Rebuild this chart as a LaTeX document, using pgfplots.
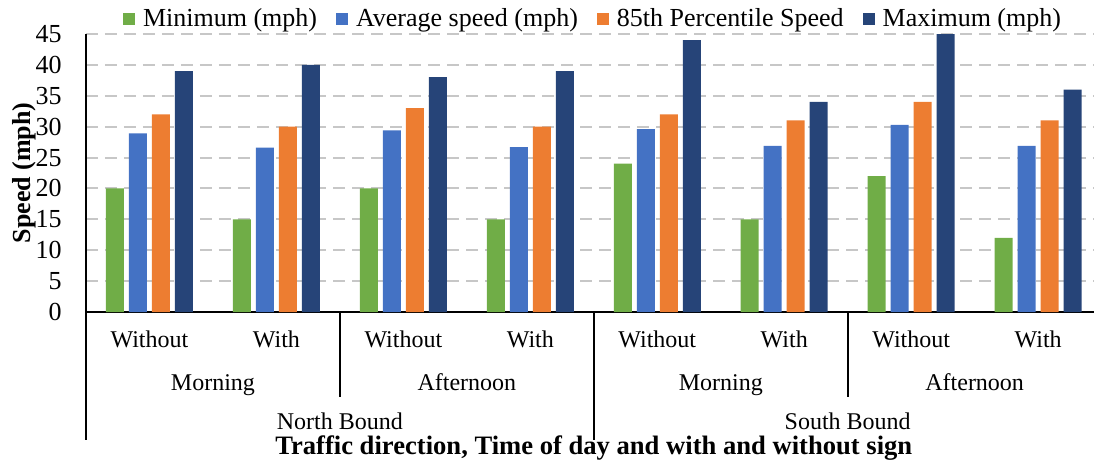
\documentclass[border=0pt]{standalone}
\usepackage{pgfplots}
\pgfplotsset{compat=1.18}
\usepackage{fontspec}
\setmainfont{Liberation Serif}
\definecolor{cgreen}{HTML}{70AD47}
\definecolor{cblue}{HTML}{4472C4}
\definecolor{corange}{HTML}{ED7D31}
\definecolor{cnavy}{HTML}{264478}
\begin{document}
\begin{tikzpicture}
\begin{axis}[
  scale only axis,
  width=504pt, height=139pt,
  xmin=-0.5, xmax=7.44, ymin=0, ymax=45,
  clip=false,
  ybar=2.5pt, bar width=9pt,
  axis x line*=bottom, axis y line*=left,
  axis line style={line width=1pt, black, -},
  xtick={0,...,7},
  xticklabels={Without,With,Without,With,Without,With,Without,With},
  ytick={0,5,...,45},
  major tick length=0pt,
  tick style={draw=none},
  ymajorgrids,
  grid style={line width=1pt, color=black!22, dash pattern=on 6pt off 3.5pt},
  /pgf/number format/assume math mode=true,
  yticklabel style={font=\fontsize{13}{15}\selectfont, inner sep=0pt, xshift=-12pt},
  xticklabel style={font=\fontsize{12}{14}\selectfont, anchor=base, inner sep=0pt, yshift=-17.5pt},
  ylabel={\bfseries Speed (mph)},
  ylabel style={at={([xshift=-31pt]axis description cs:0,0.5)}, anchor=center, inner sep=0pt, font=\fontsize{13}{15}\selectfont},
  legend columns=4,
  legend image code/.code={\fill[#1] (0pt,-3pt) rectangle (6pt,3pt);},
  legend style={draw=none, fill=none, at={(axis description cs:0.504,1)}, anchor=center, yshift=7.5pt,
    font=\fontsize{13}{15}\selectfont,
    /tikz/every odd column/.append style={column sep=2pt},
    /tikz/every even column/.append style={column sep=7.5pt}},
]
\addplot[fill=cgreen, draw=none] coordinates {(0,20) (1,15) (2,20) (3,15) (4,24) (5,15) (6,22) (7,12)};
\addplot[fill=cblue, draw=none] coordinates {(0,28.9) (1,26.6) (2,29.4) (3,26.7) (4,29.6) (5,26.9) (6,30.3) (7,26.9)};
\addplot[fill=corange, draw=none] coordinates {(0,32) (1,30) (2,33) (3,30) (4,32) (5,31) (6,34) (7,31)};
\addplot[fill=cnavy, draw=none] coordinates {(0,39) (1,40) (2,38) (3,39) (4,44) (5,34) (6,45) (7,36)};
\legend{Minimum (mph), Average speed (mph), 85th Percentile Speed, Maximum (mph)}
% separators
\draw[line width=1pt] (axis cs:-0.5,0) -- ++(0pt,-64pt);
\draw[line width=1pt] (axis cs:3.5,0) -- ++(0pt,-64pt);
\draw[line width=1pt] (axis cs:1.5,0) -- ++(0pt,-42.5pt);
\draw[line width=1pt] (axis cs:5.5,0) -- ++(0pt,-42.5pt);
% second level
\node[anchor=base, inner sep=0pt, yshift=-39pt, font=\fontsize{12}{14}\selectfont] at (axis cs:0.5,0) {Morning};
\node[anchor=base, inner sep=0pt, yshift=-39pt, font=\fontsize{12}{14}\selectfont] at (axis cs:2.5,0) {Afternoon};
\node[anchor=base, inner sep=0pt, yshift=-39pt, font=\fontsize{12}{14}\selectfont] at (axis cs:4.5,0) {Morning};
\node[anchor=base, inner sep=0pt, yshift=-39pt, font=\fontsize{12}{14}\selectfont] at (axis cs:6.5,0) {Afternoon};
% third level
\node[anchor=base, inner sep=0pt, yshift=-58.5pt, font=\fontsize{12}{14}\selectfont] at (axis cs:1.5,0) {North Bound};
\node[anchor=base, inner sep=0pt, yshift=-58.5pt, font=\fontsize{12}{14}\selectfont] at (axis cs:5.5,0) {South Bound};
% x title
\node[anchor=base, inner sep=0pt, yshift=-71.3pt, font=\fontsize{13.3}{15}\selectfont\bfseries] at (axis cs:3.5,0) {Traffic direction, Time of day and with and without sign};
\end{axis}
\pgfresetboundingbox
\path[use as bounding box] (-43pt,-74.5pt) rectangle (504pt,156pt);
\end{tikzpicture}
\end{document}
